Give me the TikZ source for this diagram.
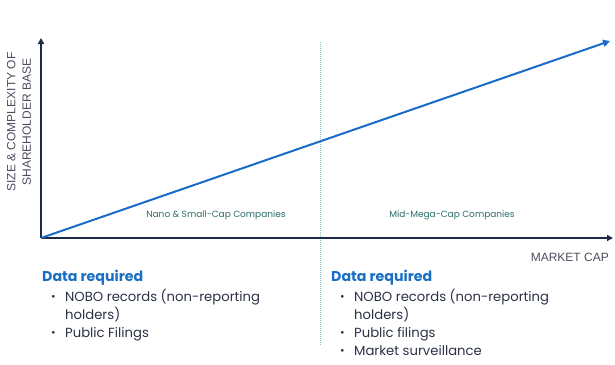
\documentclass[tikz,border=0pt]{standalone}
\usepackage{fontspec}
\setmainfont{Poppins}
\newfontfamily\arialf{Liberation Sans}
\usetikzlibrary{arrows.meta}
\definecolor{navy}{HTML}{1F2A44}
\definecolor{lineblue}{HTML}{1A6AC8}
\definecolor{teal}{HTML}{2A6E6A}
\definecolor{gtext}{HTML}{4A4F5C}
\definecolor{divider}{HTML}{8FBFC0}
\definecolor{headblue}{HTML}{1A6FC4}
\definecolor{bodytext}{HTML}{2B3245}
\tikzset{
  axis/.style={draw=navy, line width=1.8pt, -{Triangle[length=6pt,width=6pt]}},
  trend/.style={draw=lineblue, line width=2pt, -{Triangle[length=7pt,width=7pt]}},
  divline/.style={draw=divider, line width=1pt, densely dotted},
  seglabel/.style={text=teal, font=\fontsize{9}{10}\selectfont, inner sep=0pt},
  axlabel/.style={text=gtext, font=\arialf\fontsize{12}{15.5}\selectfont, inner sep=0pt},
  head/.style={text=headblue, font=\bfseries\fontsize{14.2}{17}\selectfont, anchor=base west, inner sep=0pt},
  item/.style={text=bodytext, font=\fontsize{13.2}{18}\selectfont, anchor=base west, inner sep=0pt},
  dot/.style={text=bodytext, font=\fontsize{11}{18}\selectfont, anchor=base west, inner sep=0pt}
}
\begin{document}
\begin{tikzpicture}[x=1pt,y=-1pt]
\useasboundingbox (0,0) rectangle (615,364);
\coordinate (o) at (41,238);
\coordinate (ytop) at (41,38);
\coordinate (xend) at (613,238);
\coordinate (tend) at (610,41);
\coordinate (dtop) at (320,42);
\coordinate (dbot) at (320,345);
\draw[divline] (dtop) -- (dbot);
\draw[axis] (o) -- (ytop);
\draw[axis] (o) -- (xend);
\draw[trend] (o) -- (tend);
\node[axlabel, rotate=90, align=center] (ylab) at (19,122) {SIZE \& COMPLEXITY OF\\SHAREHOLDER BASE};
\node[seglabel] (nano) at (216,215) {Nano \& Small-Cap Companies};
\node[seglabel] (mid) at (452,215) {Mid-Mega-Cap Companies};
\node[axlabel, anchor=base east] (mcap) at (609,261) {MARKET CAP};
% left column
\node[head] (h1) at (42,281) {Data required};
\node[dot] (b1) at (51,300.5) {•};
\node[item] (l1a) at (65,301) {NOBO records (non-reporting};
\node[item] (l1b) at (65,319) {holders)};
\node[dot] (b2) at (51,336.5) {•};
\node[item] (l1c) at (65,337) {Public Filings};
% right column
\node[head] (h2) at (331,281) {Data required};
\node[dot] (c1) at (340,300.5) {•};
\node[item] (r1a) at (354,301) {NOBO records (non-reporting};
\node[item] (r1b) at (354,319) {holders)};
\node[dot] (c2) at (340,336.5) {•};
\node[item] (r1c) at (354,337) {Public filings};
\node[dot] (c3) at (340,354.5) {•};
\node[item] (r1d) at (354,355) {Market surveillance};
\end{tikzpicture}
\end{document}
